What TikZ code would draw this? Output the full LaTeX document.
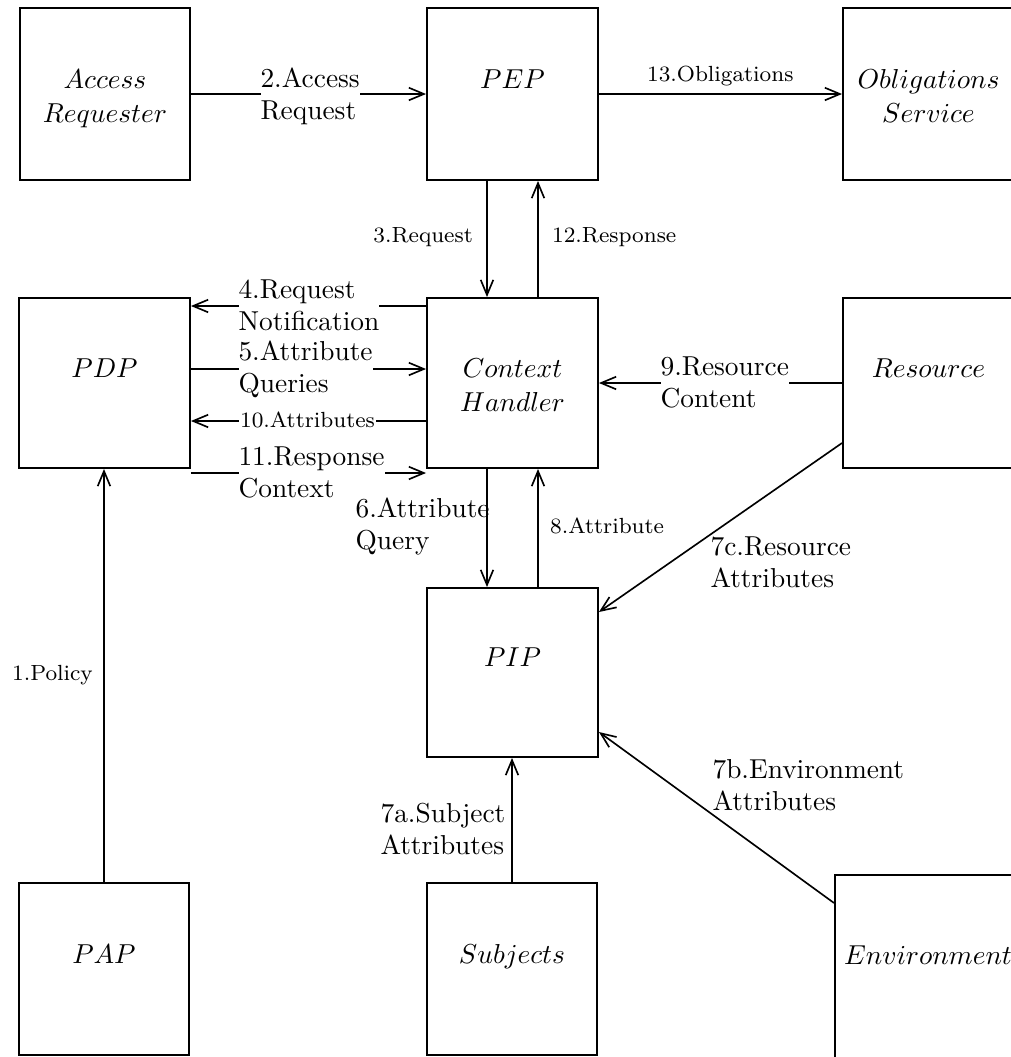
\documentclass[tikz,border=0pt]{standalone}
\usetikzlibrary{arrows.meta}
\def\pxu{0.365pt}
% taller strut for the first line of a component name
\newcommand\boxtop{\rule{0pt}{12.1pt}}
\begin{document}
\begin{tikzpicture}[x=0.365pt, y=-0.365pt,
  box/.style={draw, line width=0.7pt, inner sep=0pt,
    minimum width=171*\pxu, minimum height=171*\pxu,
    align=center, font=\fontsize{10}{12.6}\selectfont},
  arr/.style={line width=0.7pt, -{Straight Barb[length=5.5pt,width=4.6pt,line width=0.6pt]}},
  lbl/.style={anchor=north west, align=left, inner sep=0pt,
    font=\fontsize{10}{11.5}\selectfont},
  gap/.style={lbl, fill=white},
  tag/.style={inner sep=0.6pt, font=\fontsize{8}{9.5}\selectfont}]

\clip (0,0) rectangle (1011,1057);
\fill[white] (0,0) rectangle (1011,1057);

% components
\node[box, minimum width=170*\pxu, minimum height=172*\pxu] (ar)  at (105,94) {\boxtop$Access$\\\strut$Requester$};
\node[box, minimum height=172*\pxu] (pep) at (512.5,94)  {\boxtop$PEP$\\\strut};
\node[box, minimum height=172*\pxu] (obl) at (928.5,94)  {\boxtop$Obligations$\\\strut$Service$};
\node[box, minimum height=170*\pxu] (pdp) at (104.5,383) {\boxtop$PDP$\\\strut};
\node[box, minimum height=170*\pxu] (ch)  at (512.5,383) {\boxtop$Context$\\\strut$Handler$};
\node[box, minimum height=170*\pxu] (res) at (928.5,383) {\boxtop$Resource$\\\strut};
\node[box, minimum height=169*\pxu] (pip) at (512.5,672.5) {\boxtop$PIP$\\\strut};
\node[box, minimum width=170*\pxu, minimum height=172*\pxu] (pap) at (104,969) {\boxtop$PAP$\\\strut};
\node[box, minimum width=170*\pxu, minimum height=172*\pxu] (sub) at (512,969) {\boxtop$Subjects$\\\strut};
\node[box, minimum width=186*\pxu, minimum height=190*\pxu] (env) at (928,970) {\boxtop$Environment$\\\strut};

% message flows
\draw[arr] (ar.east) -- (pep.west);
\draw[arr] (pep.east) -- (obl.west);
\draw[arr] ([xshift=-25.5*\pxu]pep.south) -- ([xshift=-25.5*\pxu]ch.north);
\draw[arr] ([xshift=25.5*\pxu]ch.north) -- ([xshift=25.5*\pxu]pep.south);
\draw[arr] ([yshift=77*\pxu]ch.west) -- ([yshift=77*\pxu]pdp.east);
\draw[arr] ([yshift=14*\pxu]pdp.east) -- ([yshift=14*\pxu]ch.west);
\draw[arr] ([yshift=-38*\pxu]ch.west) -- ([yshift=-38*\pxu]pdp.east);
\draw[arr] ([yshift=-90*\pxu]pdp.east) -- ([yshift=-90*\pxu]ch.west);
\draw[arr] (res.west) -- (ch.east);
\draw[arr] ([xshift=-25.5*\pxu]ch.south) -- ([xshift=-25.5*\pxu]pip.north);
\draw[arr] ([xshift=25.5*\pxu]pip.north) -- ([xshift=25.5*\pxu]ch.south);
\draw[arr, line width=0.6pt] ([yshift=-60*\pxu]res.west) -- ([yshift=60.5*\pxu]pip.east);
\draw[arr, line width=0.6pt] ([yshift=67*\pxu]env.west) -- ([yshift=-59.5*\pxu]pip.east);
\draw[arr] (sub.north) -- (sub.north |- pip.south);
\draw[arr] (pap.north) -- (pap.north |- pdp.south);

% flow labels
\node[gap] (l2)  at (260,65)  {\strut 2.Access\\\strut Request};
\node[tag, anchor=base west] (l13) at (645,81) {13.Obligations};
\node[tag, anchor=base east] (l3)  at (475,242) {3.Request};
\node[tag, anchor=base west] (l12) at (550,242) {12.Response};
\node[gap] (l4)  at (238,276) {\strut 4.Request\\\strut Notification};
\node[gap] (l5)  at (238,338) {\strut 5.Attribute\\\strut Queries};
\node[tag, anchor=base west, fill=white] (l10) at (238,427) {10.Attributes};
\node[gap] (l11) at (238,443) {\strut 11.Response\\\strut Context};
\node[gap] (l9)  at (660,353) {\strut 9.Resource\\\strut Content};
\node[lbl] (l6)  at (355,495) {\strut 6.Attribute\\\strut Query};
\node[tag, anchor=base west] (l8) at (548,533) {8.Attribute};
\node[lbl] (l7c) at (710,533) {\strut 7c.Resource\\\strut Attributes};
\node[lbl] (l7b) at (712,756) {\strut 7b.Environment\\\strut Attributes};
\node[lbl] (l7a) at (380,800) {\strut 7a.Subject\\\strut Attributes};
\node[tag, anchor=base west] (l1) at (10,680) {1.Policy};
\end{tikzpicture}
\end{document}
